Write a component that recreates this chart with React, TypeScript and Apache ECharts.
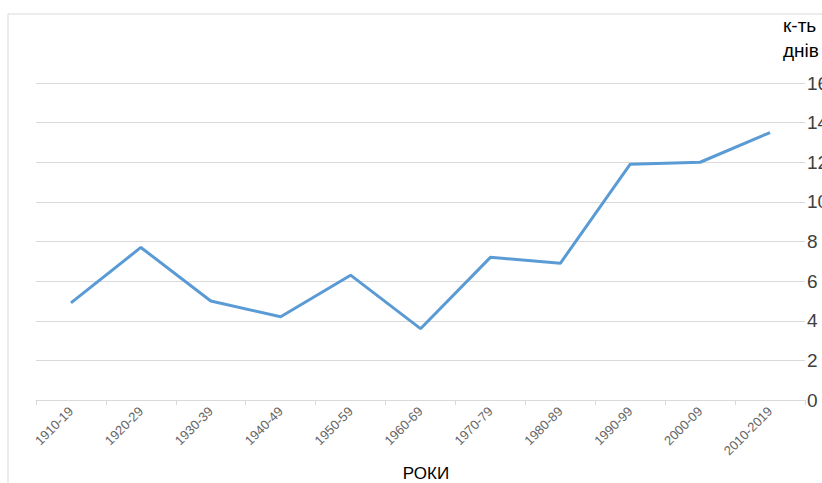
import React, { useEffect, useRef } from "react";
import * as echarts from "echarts";

const categories = [
  "1910-19", "1920-29", "1930-39", "1940-49", "1950-59", "1960-69",
  "1970-79", "1980-89", "1990-99", "2000-09", "2010-2019",
];
const days = [4.9, 7.7, 5.0, 4.2, 6.3, 3.6, 7.2, 6.9, 11.9, 12.0, 13.5];
const yTicks = [0, 2, 4, 6, 8, 10, 12, 14, 16];
const xTitle = "РОКИ";
const yTitle = "к-ть\nднів";

export default function App() {
  const ref = useRef<HTMLDivElement>(null);
  useEffect(() => {
    if (!ref.current) return;
    const chart = echarts.init(ref.current, null, { renderer: "svg" });
    chart.setOption({
      animation: false,
      backgroundColor: "#ffffff",
      grid: {
        left: 36,
        right: 17,
        top: 83,
        bottom: 83,
        containLabel: false,
        outerBoundsMode: "none",
      },
      graphic: [
        {
          type: "rect",
          shape: { x: 8, y: 14, width: 900, height: 600 },
          style: { fill: "none", stroke: "#d9d9d9", lineWidth: 1 },
          silent: true,
        },
        {
          type: "text",
          x: 426,
          y: 473,
          style: {
            text: xTitle,
            fill: "#000000",
            font: '17px "Liberation Sans", Arial, sans-serif',
            align: "center",
            verticalAlign: "middle",
          },
        },
        {
          type: "text",
          x: 783,
          y: 13,
          style: {
            text: yTitle,
            fill: "#000000",
            font: '19px "Liberation Sans", Arial, sans-serif',
            lineHeight: 25,
            align: "left",
            verticalAlign: "top",
          },
        },
      ],
      xAxis: {
        type: "category",
        data: categories,
        boundaryGap: true,
        axisLine: { show: true, lineStyle: { color: "#d9d9d9", width: 1 } },
        axisTick: { show: true, interval: 0, length: 5, lineStyle: { color: "#d9d9d9" } },
        axisLabel: {
          interval: 0,
          rotate: 45,
          margin: 9,
          color: "#666666",
          fontSize: 13,
          fontFamily: '"Liberation Sans", Arial, sans-serif',
        },
        splitLine: { show: false },
      },
      yAxis: {
        type: "value",
        position: "right",
        min: yTicks[0],
        max: yTicks[yTicks.length - 1],
        interval: 2,
        axisLine: { show: false },
        axisTick: { show: false },
        axisLabel: {
          margin: 2,
          color: "#404040",
          fontSize: 19,
          align: "left",
          padding: [0, 0, 8, 0],
          fontFamily: '"Liberation Sans", Arial, sans-serif',
        },
        splitLine: { show: true, lineStyle: { color: "#d9d9d9", width: 1 } },
      },
      series: [
        {
          type: "line",
          data: days,
          symbol: "none",
          lineStyle: { color: "#5B9BD5", width: 3 },
          itemStyle: { color: "#5B9BD5" },
        },
      ],
    });
    return () => chart.dispose();
  }, []);
  return (
    <div
      ref={ref}
      style={{ position: "fixed", left: 0, top: 0, width: 822, height: 483 }}
    />
  );
}
